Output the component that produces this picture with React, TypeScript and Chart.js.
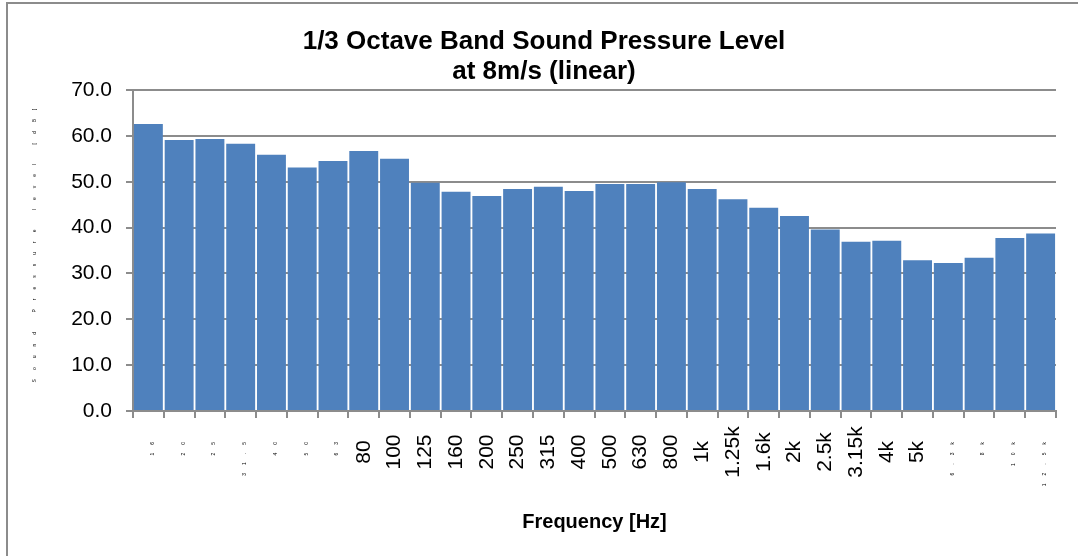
import React, { useEffect, useRef } from 'react';
import { Chart, registerables } from 'chart.js';

Chart.register(...registerables);

const categories = ['16', '20', '25', '31.5', '40', '50', '63', '80', '100', '125', '160', '200', '250', '315', '400', '500', '630', '800', '1k', '1.25k', '1.6k', '2k', '2.5k', '3.15k', '4k', '5k', '6.3k', '8k', '10k', '12.5k'];
const splValues = [62.6, 59.1, 59.3, 58.3, 55.9, 53.1, 54.5, 56.7, 55.0, 49.8, 47.8, 46.9, 48.4, 48.9, 48.0, 49.5, 49.5, 49.9, 48.4, 46.2, 44.3, 42.5, 39.6, 36.9, 37.1, 32.9, 32.3, 33.4, 37.7, 38.7];
const tinyLabels = ['16', '20', '25', '31.5', '40', '50', '63', '6.3k', '8k', '10k', '12.5k'];
const titleLines = ['1/3 Octave Band Sound Pressure Level', 'at 8m/s (linear)'];
const xTitle = 'Frequency [Hz]';
const yTitle = 'Sound Pressure level [dB]';
const yMin = 0;
const yMax = 70;
const yStep = 10;

const FONT = '"Liberation Sans", Arial, sans-serif';
const GRID = '#8c8c8c';

const labelsPlugin = {
  id: 'customLabels',
  afterDraw(chart: any) {
    const ctx = chart.ctx;
    const xs = chart.scales.x;
    const area = chart.chartArea;
    ctx.save();
    ctx.fillStyle = '#000';
    categories.forEach((lab, i) => {
      const px = xs.getPixelForTick(i);
      ctx.save();
      if (tinyLabels.includes(lab)) {
        ctx.translate(px + 4, area.bottom + 23);
        ctx.rotate(-Math.PI / 2);
        ctx.font = `5px ${FONT}`;
        (ctx as any).letterSpacing = '8px';
        ctx.textAlign = 'right';
        ctx.textBaseline = 'middle';
        ctx.fillText(lab, 0, 0);
      } else {
        ctx.translate(px, area.bottom + 41);
        ctx.rotate(-Math.PI / 2);
        ctx.font = `21px ${FONT}`;
        ctx.textAlign = 'center';
        ctx.textBaseline = 'middle';
        ctx.fillText(lab, 0, 0);
      }
      ctx.restore();
    });
    // y axis title (tiny glyphs, wide spacing)
    ctx.save();
    ctx.translate(35, 241);
    ctx.rotate(-Math.PI / 2);
    ctx.font = `5px ${FONT}`;
    (ctx as any).letterSpacing = '9px';
    ctx.textAlign = 'center';
    ctx.textBaseline = 'middle';
    ctx.fillText(yTitle, 0, 0);
    ctx.restore();
    ctx.restore();
  },
};

export default function App() {
  const ref = useRef<HTMLCanvasElement | null>(null);

  useEffect(() => {
    if (!ref.current) return;
    const chart = new Chart(ref.current, {
      type: 'bar',
      data: {
        labels: categories,
        datasets: [
          {
            data: splValues,
            backgroundColor: '#4f81bd',
            borderWidth: 0,
            barPercentage: 1,
            categoryPercentage: 0.94,
          },
        ],
      },
      options: {
        animation: false,
        responsive: false,
        maintainAspectRatio: false,
        layout: { padding: { left: 32, right: 22, top: 20, bottom: 0 } },
        plugins: {
          legend: { display: false },
          tooltip: { enabled: false },
          title: {
            display: true,
            text: titleLines,
            color: '#000',
            font: { family: FONT, size: 26, weight: 'bold', lineHeight: 30 / 26 },
            padding: { top: 7, bottom: 3 },
          },
        },
        scales: {
          x: {
            offset: true,
            grid: {
              offset: true,
              drawOnChartArea: false,
              drawTicks: true,
              tickLength: 7,
              color: GRID,
              lineWidth: 2,
            },
            border: { color: GRID, width: 2 },
            ticks: { display: false },
            title: {
              display: true,
              text: xTitle,
              color: '#000',
              font: { family: FONT, size: 20, weight: 'bold' },
              padding: { top: 0, bottom: 22 },
            },
            afterFit(scale: any) {
              scale.height = 556 - 411;
            },
          },
          y: {
            min: yMin,
            max: yMax,
            ticks: {
              stepSize: yStep,
              color: '#000',
              font: { family: FONT, size: 21 },
              padding: 14,
              callback: (v: any) => Number(v).toFixed(1),
            },
            grid: { color: GRID, lineWidth: 2, tickLength: 7 },
            border: { color: GRID, width: 2 },
            afterFit(scale: any) {
              scale.width = 133 - 32;
            },
          },
        },
      },
      plugins: [labelsPlugin],
    });
    return () => chart.destroy();
  }, []);

  return (
    <div style={{ position: 'fixed', left: 0, top: 0, width: 1078, height: 556, overflow: 'hidden', background: '#fff' }}>
      <div
        style={{
          position: 'absolute',
          left: 6,
          top: 2,
          width: 1200,
          height: 700,
          borderLeft: '2px solid #8c8c8c',
          borderTop: '2px solid #8c8c8c',
        }}
      />
      <canvas ref={ref} width={1078} height={556} style={{ position: 'absolute', left: 0, top: 0, width: 1078, height: 556 }} />
    </div>
  );
}
